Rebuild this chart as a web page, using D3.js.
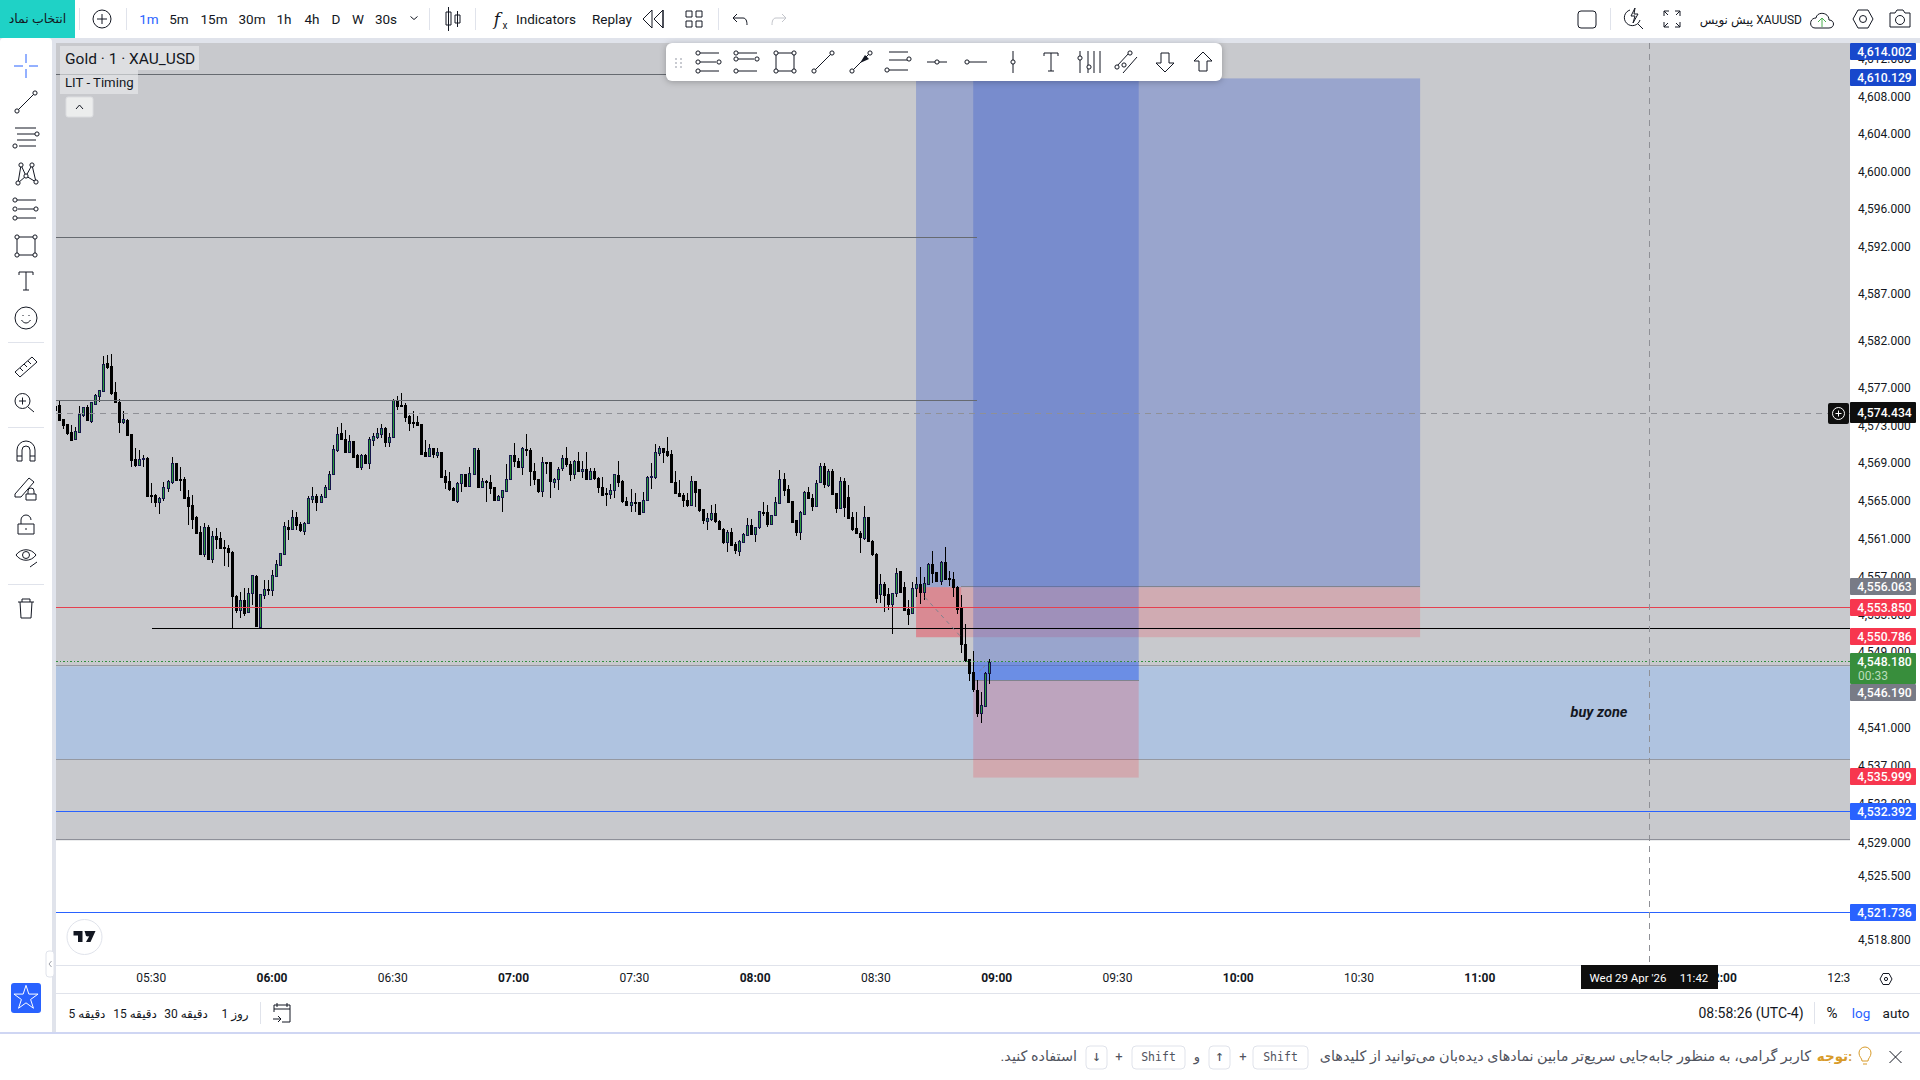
<!DOCTYPE html>
<html>
<head>
<meta charset="utf-8">
<script src="https://cdnjs.cloudflare.com/ajax/libs/d3/7.8.5/d3.min.js"></script>
<style>
html,body{margin:0;padding:0;background:#fff;overflow:hidden}
svg{display:block}
text{font-family:Roboto,'DejaVu Sans',sans-serif;fill:#131722}
</style>
</head>
<body>
<svg id="chart" width="1920" height="1080"></svg>
<script>
// XAU_USD 1 minute candles, first one is 05:06
const firstMinute = 306;
const opens = [4575.26,
4575.33,4573.85,4573.32,4572.48,4571.66,4572.51,4574.27,4575.16,4573.64,4575.47,
4576.32,4576.92,4579.78,4579.46,4576.71,4575.72,4573.53,4573.75,4572.26,4569.62,
4569.02,4569.58,4569.72,4565.81,4565.81,4565.07,4565.49,4566.55,4567.18,4569.20,
4567.50,4567.50,4565.60,4564.75,4563.48,4561.89,4559.57,4562.42,4559.04,4561.47,
4561.26,4560.27,4560.20,4559.78,4555.12,4553.64,4554.70,4553.43,4555.44,4557.24,
4551.84,4555.23,4555.86,4555.76,4557.24,4558.40,4559.57,4562.42,4562.21,4563.48,
4562.74,4562.00,4562.88,4565.39,4565.70,4565.07,4565.60,4566.44,4568.03,4570.57,
4572.37,4571.73,4570.36,4571.52,4570.04,4568.77,4570.04,4569.20,4571.63,4571.95,
4572.26,4572.90,4571.42,4571.95,4575.86,4575.33,4575.33,4574.17,4573.53,4573.53,
4573.32,4570.36,4569.94,4570.78,4570.04,4570.36,4567.82,4567.29,4566.55,4565.17,
4567.08,4568.03,4566.76,4568.03,4570.61,4566.66,4567.29,4567.18,4566.66,4565.28,
4565.60,4566.23,4567.47,4570.00,4569.37,4568.81,4570.64,4570.53,4568.31,4567.47,
4566.16,4569.26,4569.26,4567.11,4567.47,4568.59,4569.69,4569.05,4567.96,4569.37,
4568.28,4568.52,4567.43,4568.31,4567.64,4566.69,4565.98,4565.91,4566.27,4567.89,
4567.25,4565.14,4564.75,4565.10,4565.07,4563.94,4565.28,4567.64,4567.64,4570.22,
4570.75,4570.43,4570.11,4567.15,4565.98,4565.77,4565.24,4564.75,4567.25,4566.41,
4564.29,4562.99,4563.27,4563.87,4563.02,4562.17,4560.83,4561.89,4560.59,4559.92,
4560.87,4561.54,4562.60,4561.68,4562.39,4563.97,4563.97,4562.74,4563.66,4564.89,
4567.47,4566.41,4565.14,4563.13,4561.82,4563.80,4566.09,4565.46,4564.64,4567.18,
4568.88,4566.80,4568.31,4565.98,4564.43,4567.25,4565.56,4563.44,4562.28,4561.75,
4561.26,4563.44,4560.94,4559.57,4555.26,4556.36,4555.33,4554.27,4555.40,4557.73,
4556.07,4553.71,4553.25,4555.90,4556.36,4555.47,4556.36,4558.51,4557.66,4556.67,
4558.68,4556.99,4556.89,4556.07,4553.82,4550.11,4548.53,4547.15,4545.25,4542.85,
4543.55,4547.04];
const highs = [4575.33,
4575.86,4573.85,4573.32,4573.22,4572.97,4575.23,4575.16,4575.33,4575.72,4576.57,
4576.99,4580.52,4580.62,4580.73,4577.77,4576.04,4574.70,4573.85,4572.26,4570.78,
4570.57,4570.04,4569.87,4567.08,4565.92,4565.63,4567.18,4567.40,4569.83,4569.20,
4568.81,4567.71,4566.34,4565.81,4563.59,4562.53,4562.85,4562.63,4562.00,4562.32,
4561.89,4561.05,4560.52,4559.88,4555.23,4555.55,4555.97,4555.97,4557.34,4557.34,
4555.34,4556.82,4556.82,4557.87,4558.93,4559.67,4562.95,4563.16,4564.22,4564.01,
4562.95,4562.95,4565.70,4566.66,4565.92,4565.92,4566.83,4568.35,4571.10,4573.00,
4573.43,4572.69,4572.16,4571.52,4570.15,4570.15,4570.15,4571.95,4572.37,4572.90,
4573.32,4573.00,4572.37,4575.97,4576.28,4576.60,4575.54,4574.27,4574.70,4574.17,
4573.32,4571.63,4571.21,4570.78,4570.78,4570.36,4568.45,4568.24,4566.66,4567.18,
4568.03,4568.03,4568.77,4570.78,4570.78,4567.61,4567.40,4567.92,4566.66,4565.81,
4566.34,4569.09,4570.00,4571.31,4569.69,4570.89,4572.26,4570.75,4569.16,4567.47,
4569.79,4569.26,4569.26,4567.57,4568.74,4570.00,4570.89,4569.37,4569.51,4570.32,
4569.37,4570.32,4568.63,4568.63,4567.68,4567.68,4566.51,4566.94,4568.00,4569.37,
4567.39,4565.63,4566.41,4566.05,4565.10,4566.16,4567.82,4569.16,4571.17,4570.96,
4570.75,4571.91,4570.53,4568.31,4567.36,4565.98,4565.98,4567.82,4567.25,4566.41,
4564.29,4563.87,4564.79,4564.82,4563.16,4562.28,4562.10,4562.28,4560.80,4561.05,
4561.79,4563.37,4563.23,4562.46,4564.08,4565.07,4564.75,4563.69,4565.56,4568.45,
4568.10,4566.83,4565.14,4563.13,4564.11,4566.20,4566.62,4565.91,4567.39,4569.16,
4569.16,4568.52,4568.52,4565.98,4567.75,4567.57,4566.83,4564.04,4564.01,4562.00,
4564.64,4563.44,4561.05,4559.64,4557.45,4556.60,4555.93,4555.40,4558.05,4557.73,
4556.60,4554.70,4556.60,4557.13,4558.19,4557.17,4558.65,4559.88,4557.66,4558.82,
4560.31,4557.73,4557.66,4556.18,4555.23,4552.16,4548.53,4549.37,4546.30,4544.96,
4547.08,4548.53];
const lows = [4574.70,
4573.70,4572.79,4572.16,4571.63,4571.66,4572.51,4574.06,4573.75,4573.43,4575.47,
4575.69,4576.74,4579.14,4576.39,4575.69,4572.40,4573.32,4572.16,4568.77,4568.77,
4568.88,4568.77,4565.74,4564.96,4564.58,4563.80,4565.17,4566.13,4566.97,4567.40,
4566.23,4565.49,4562.63,4562.21,4561.79,4559.46,4559.21,4558.93,4558.65,4560.13,
4560.20,4558.30,4558.19,4551.70,4553.32,4552.79,4553.01,4553.43,4554.17,4551.95,
4551.84,4554.81,4555.23,4555.12,4557.13,4558.40,4559.57,4561.05,4562.11,4562.11,
4561.89,4561.58,4562.88,4564.96,4564.12,4564.96,4565.60,4566.44,4568.03,4570.36,
4571.73,4570.36,4570.36,4569.83,4568.67,4568.45,4569.09,4568.56,4570.99,4571.73,
4571.84,4570.89,4570.89,4571.95,4574.80,4575.23,4573.53,4572.58,4572.90,4573.22,
4570.04,4569.94,4569.94,4569.72,4569.72,4567.71,4566.44,4566.23,4565.17,4564.96,
4566.13,4566.76,4566.76,4568.03,4566.66,4566.55,4565.07,4565.92,4565.17,4565.17,
4564.01,4566.23,4567.36,4568.81,4568.63,4567.96,4569.93,4566.80,4566.87,4565.98,
4565.63,4568.03,4565.53,4566.58,4566.34,4568.31,4568.81,4567.32,4567.47,4568.28,
4567.57,4567.43,4567.43,4567.43,4565.98,4565.81,4564.64,4565.35,4565.46,4566.69,
4564.93,4564.64,4564.04,4564.04,4563.80,4563.94,4565.14,4566.44,4567.50,4569.93,
4569.16,4569.86,4567.11,4565.95,4565.70,4564.57,4564.54,4564.64,4564.54,4564.04,
4562.74,4562.10,4563.09,4562.81,4562.10,4560.59,4559.78,4560.45,4559.57,4559.35,
4560.80,4561.47,4561.65,4560.83,4562.21,4563.62,4562.46,4562.74,4563.62,4564.86,
4565.74,4564.93,4562.95,4561.47,4561.05,4563.80,4565.42,4564.11,4564.64,4567.18,
4566.58,4566.69,4565.91,4563.87,4564.43,4563.52,4563.37,4562.03,4561.68,4559.71,
4561.05,4560.94,4559.35,4554.35,4554.42,4553.43,4553.64,4551.10,4554.98,4555.40,
4553.64,4552.05,4553.25,4555.05,4554.27,4554.70,4556.29,4556.46,4556.60,4556.29,
4556.81,4556.18,4555.05,4553.22,4549.16,4548.14,4546.13,4544.96,4542.42,4541.72,
4543.55,4545.88];
const closes = [4574.80,
4573.75,4573.22,4572.37,4571.63,4572.55,4574.38,4575.09,4573.75,4575.65,4576.39,
4576.99,4579.74,4579.35,4576.64,4575.69,4573.57,4573.85,4572.16,4569.51,4568.98,
4569.62,4569.72,4565.74,4565.74,4565.07,4565.49,4566.66,4567.29,4569.20,4567.40,
4567.43,4565.49,4564.65,4563.27,4561.79,4559.57,4562.42,4559.04,4561.47,4561.15,
4560.20,4560.20,4559.78,4555.12,4553.64,4554.70,4553.32,4555.44,4557.34,4551.95,
4555.34,4555.86,4555.79,4557.34,4558.51,4559.67,4562.53,4562.21,4563.48,4562.63,
4562.11,4562.85,4565.49,4565.70,4565.07,4565.70,4566.66,4568.03,4570.68,4572.26,
4571.73,4570.36,4571.52,4569.83,4568.77,4570.04,4569.20,4571.73,4572.05,4572.37,
4572.90,4571.42,4571.95,4575.86,4575.23,4575.23,4574.06,4573.43,4573.43,4573.22,
4570.15,4569.94,4570.78,4570.15,4570.36,4567.71,4567.18,4566.44,4565.28,4567.08,
4568.03,4566.76,4568.14,4570.78,4566.66,4567.29,4567.18,4566.55,4565.28,4565.70,
4566.34,4567.50,4570.00,4569.37,4568.74,4570.78,4570.50,4568.28,4567.47,4566.16,
4569.26,4569.12,4567.22,4567.47,4568.52,4569.69,4569.05,4567.96,4569.37,4568.28,
4568.52,4567.43,4568.31,4567.54,4566.69,4565.88,4565.88,4566.30,4568.00,4567.11,
4565.10,4564.71,4565.03,4565.00,4563.80,4565.24,4567.68,4567.78,4570.32,4570.75,
4570.32,4570.04,4567.11,4565.95,4565.70,4565.21,4564.71,4567.25,4566.13,4564.22,
4563.09,4563.34,4563.87,4562.99,4562.14,4560.76,4561.89,4560.55,4559.92,4560.94,
4561.68,4562.60,4561.68,4562.39,4564.08,4563.90,4562.74,4563.66,4565.03,4567.47,
4566.34,4565.07,4562.95,4561.82,4563.97,4566.13,4565.42,4564.64,4567.04,4568.88,
4566.94,4568.31,4565.91,4564.43,4567.25,4564.50,4563.37,4562.21,4561.75,4561.29,
4563.44,4560.94,4559.57,4554.91,4556.36,4555.22,4554.27,4555.40,4557.52,4555.47,
4553.64,4553.22,4555.93,4556.36,4555.47,4556.46,4558.51,4557.55,4556.67,4558.68,
4556.92,4556.92,4556.07,4553.78,4550.04,4548.46,4547.08,4545.32,4542.85,4543.66,
4547.04,4548.18];

// Axis ticks
const priceTicks = [4612,4608,4604,4600,4596,4592,4587,4582,4577,4573,4569,4565,4561,4557,4553,4549,4541,4537,4533,4529,4525.5,4522,4518.8];
const timeTicks = [330,360,390,420,450,480,510,540,570,600,630,660,690,720,750];

// Price labels on the right side
const priceTags = [
    {p: 4614.002, c: '#1848cc'},
    {p: 4610.129, c: '#1848cc'},
    {p: 4574.434, c: '#0e0e0e', h: 21},
    {p: 4556.063, c: '#787b86'},
    {p: 4553.850, c: '#f7374f'},
    {p: 4550.786, c: '#f7374f'},
    {p: 4548.180, c: '#388e3c', h: 31, sub: '00:33'},
    {p: 4546.190, c: '#787b86'},
    {p: 4535.999, c: '#f7374f'},
    {p: 4532.392, c: '#2962ff'},
    {p: 4521.736, c: '#2962ff'}
];

// Drawings, in price and minutes from midnight
const paneTop = 4614.002, grayBottom = 4529.4;
const zoneTop = 4547.7, zoneBottom = 4537.85;
const crossPrice = 4574.434, crossMinute = 702;
const grayLines = [4610.5, 4593.15, 4575.74];
const blueLines = [4532.392, 4521.736];
const redLine = 4553.85, blackLine = 4551.69, lastPrice = 4548.18;

const PANE = {left: 56, right: 1850, top: 43, bottom: 965};

const svg = d3.select('#chart');
const x = d3.scaleLinear().domain([360, 660]).range([272.7, 1480.5]);
const y = d3.scaleLog().domain([4610.129, 4521.736]).range([78.4, 913.4]);

svg.append('rect').attr('width', 1920).attr('height', 1080).attr('fill', '#fff');
svg.append('defs').append('clipPath').attr('id', 'pane').append('rect')
    .attr('x', PANE.left).attr('y', PANE.top)
    .attr('width', PANE.right - PANE.left).attr('height', PANE.bottom - PANE.top);

drawFrame();
drawPane();
drawAxes();
drawTags();
drawTopBar();
drawSideBar();
drawFloatingBar();
drawBottomBar();

function label(g, str, px, py, size, opts) {
    opts = opts || {};
    return g.append('text').attr('x', px).attr('y', py)
        .attr('font-size', size)
        .attr('text-anchor', opts.anchor || 'middle')
        .attr('font-weight', opts.weight || 400)
        .style('fill', opts.fill || '#131722')
        .style('font-style', opts.italic ? 'italic' : 'normal')
        .style('font-family', opts.family || null)
        .text(str);
}

function box(g, x0, y0, x1, y1, fill, opts) {
    opts = opts || {};
    return g.append('rect').attr('x', x0).attr('y', y0)
        .attr('width', x1 - x0).attr('height', y1 - y0)
        .attr('fill', fill)
        .attr('rx', opts.rx || 0)
        .attr('stroke', opts.stroke || 'none');
}

function hline(g, price, x0, x1, color, dash, width) {
    const py = Math.floor(y(price) - 0.5) + 0.5;
    g.append('line').attr('x1', x0).attr('x2', x1).attr('y1', py).attr('y2', py)
        .attr('stroke', color).attr('stroke-width', width || 1)
        .attr('stroke-dasharray', dash || null)
        .attr('shape-rendering', 'crispEdges');
}

// Draws a little tool icon: a stroked path plus round handles
function icon(g, px, py, d, handles, color) {
    const t = g.append('g').attr('transform', `translate(${px},${py})`);
    t.append('path').attr('d', d).attr('fill', 'none')
        .attr('stroke', color || '#131722').attr('stroke-width', 1);
    (handles || []).forEach(h => {
        t.append('circle').attr('cx', h[0]).attr('cy', h[1]).attr('r', 2.1)
            .attr('fill', '#fff').attr('stroke', color || '#131722').attr('stroke-width', 1);
    });
    return t;
}

function drawFrame() {
    const g = svg.append('g');
    // light lavender gaps between the panels
    box(g, 0, 38, 1920, PANE.top, '#e0e3eb');
    box(g, 52, PANE.top, PANE.left, 1032, '#e0e3eb');
    box(g, PANE.left, 965, 1920, 966, '#e0e3eb');
    box(g, PANE.left, 993, 1920, 994, '#e0e3eb');
    box(g, 0, 1032, 1920, 1034, '#cfd6f3');
}

function drawPane() {
    const g = svg.append('g').attr('clip-path', 'url(#pane)');
    const L = PANE.left, R = PANE.right;
    const longFill = 'rgba(48,84,205,0.3)';

    box(g, L, y(paneTop), R, y(grayBottom), '#c8c9cd');
    hline(g, grayBottom, L, R, '#8e9099');

    // buy zone
    box(g, L, y(zoneTop), R, y(zoneBottom), '#afc3e0');
    hline(g, zoneTop, L, R, '#9598a1');
    hline(g, zoneBottom, L, R, '#9598a1');

    // first position tool
    box(g, x(519.8), y(4610.129), x(645), y(4556.063), longFill);
    box(g, x(519.8), y(4556.063), x(645), y(4550.786), 'rgba(242,54,69,0.2)');
    box(g, x(519.8), y(4556.063), x(531), y(4550.786), 'rgba(242,54,69,0.28)');
    hline(g, 4556.063, x(531), x(645), '#80838e');

    // second position tool, the band is the open profit down to the entry
    box(g, x(534), y(4610.129), x(575.1), y(4546.19), longFill);
    box(g, x(534), y(lastPrice), x(575.1), y(4546.19), 'rgba(41,98,255,0.3)');
    box(g, x(534), y(4546.19), x(575.1), y(4535.999), 'rgba(242,54,69,0.22)');
    hline(g, 4546.19, x(534), x(575.1), '#80838e');

    label(g, 'buy zone', 1599, 717, 14.5, {weight: 700, italic: true});

    // candles
    const candles = opens.map((o, i) => ({
        m: firstMinute + i, o: o, h: highs[i], l: lows[i], c: closes[i]
    }));
    g.selectAll('.wick').data(candles).enter().append('line')
        .attr('class', 'wick')
        .attr('x1', d => Math.floor(x(d.m)) + 0.5)
        .attr('x2', d => Math.floor(x(d.m)) + 0.5)
        .attr('y1', d => y(d.h)).attr('y2', d => y(d.l))
        .attr('stroke', '#000').attr('stroke-width', 1)
        .attr('shape-rendering', 'crispEdges');
    g.selectAll('.body').data(candles).enter().append('rect')
        .attr('class', 'body')
        .attr('x', d => Math.floor(x(d.m)) - 0.5)
        .attr('width', 2)
        .attr('y', d => Math.round(y(Math.max(d.o, d.c))) + 0.5)
        .attr('height', d => Math.max(1, Math.round(Math.abs(y(d.o) - y(d.c)))))
        .attr('fill', d => d.c >= d.o ? '#2b9a3b' : '#000')
        .attr('stroke', d => d.c >= d.o ? '#15154a' : '#000')
        .attr('stroke-width', 1)
        .attr('shape-rendering', 'crispEdges');

    // levels
    grayLines.forEach(p => hline(g, p, L, x(535), '#666a70'));
    hline(g, redLine, L, R, '#e5404f');
    hline(g, blackLine, x(330), R, '#000');
    hline(g, lastPrice, L, R, '#2f8f3c', '1.5 2');
    blueLines.forEach(p => hline(g, p, L, R, '#2962ff'));

    // dashed diagonals of the position tools
    const diagonal = d3.line().x(d => x(d[0])).y(d => y(d[1]));
    g.append('path').attr('d', diagonal([[522, 4555.0], [531, 4550.8]]))
        .attr('fill', 'none').attr('stroke', '#80838e').attr('stroke-dasharray', '4 4');
    g.append('path').attr('d', diagonal([[535.5, 4547.2], [537, 4547.8]]))
        .attr('fill', 'none').attr('stroke', '#80838e').attr('stroke-dasharray', '3 2');

    // crosshair
    hline(g, crossPrice, L, R, '#8f9096', '6 5');
    g.append('line').attr('x1', Math.floor(x(crossMinute)) + 0.5).attr('x2', Math.floor(x(crossMinute)) + 0.5)
        .attr('y1', PANE.top).attr('y2', PANE.bottom)
        .attr('stroke', '#8f9096').attr('stroke-dasharray', '6 5')
        .attr('shape-rendering', 'crispEdges');

    // legend
    box(g, 60, 46, 199, 70, 'rgba(232,233,235,0.65)');
    label(g, 'Gold · 1 · XAU_USD', 65, 64, 15.5, {anchor: 'start'});
    box(g, 60, 70, 138, 94, 'rgba(232,233,235,0.65)');
    label(g, 'LIT - Timing', 65, 87, 13.2, {anchor: 'start'});
    box(g, 66, 97, 93, 117, '#eceded', {rx: 2, stroke: '#dcdde0'});
    icon(g, 79.5, 107, 'M-3.5 2L0 -2L3.5 2');

    // tv logo
    g.append('circle').attr('cx', 84.5).attr('cy', 937).attr('r', 17.5)
        .attr('fill', '#fff').attr('stroke', '#e0e3eb');
    g.append('path').attr('transform', 'translate(84.5,937)')
        .attr('d', 'M-11 -6H-2V5H-6.5V-1.5H-11ZM0 -6L5.5 -6L11 -6L6 5H1.5L6 -3A2 2 0 0 1 1 -3Z')
        .attr('fill', '#131722');
}

function drawAxes() {
    const priceAxis = d3.axisRight(y).tickValues(priceTicks).tickSize(0).tickPadding(8)
        .tickFormat(d3.format(',.3f'));
    const timeFormat = m => String(Math.floor(m / 60)).padStart(2, '0') + ':' + String(m % 60).padStart(2, '0');
    const timeAxis = d3.axisBottom(x).tickValues(timeTicks).tickSize(0).tickPadding(0)
        .tickFormat(timeFormat);

    const tg = svg.append('g').attr('transform', 'translate(-1.2,971.5)').call(timeAxis);
    tg.select('.domain').remove();
    tg.selectAll('text').attr('font-size', 12).attr('font-family', 'Roboto')
        .attr('dy', '0.9em')
        .attr('font-weight', d => d % 60 === 0 ? 700 : 400)
        .style('fill', '#131722');

    // right price scale sits on top of the clipped time labels
    box(svg, PANE.right, 0 + PANE.top, 1920, 1032, '#fff');
    box(svg, PANE.right, 965, 1920, 966, '#e0e3eb');
    box(svg, PANE.right, 993, 1920, 994, '#e0e3eb');

    const pg = svg.append('g').attr('transform', `translate(${PANE.right},0)`).call(priceAxis);
    pg.select('.domain').remove();
    pg.selectAll('text').attr('font-size', 12).attr('font-family', 'Roboto')
        .attr('dy', '0.155em').style('fill', '#131722');

    // crosshair date tag
    box(svg, 1581, 965, 1718, 989, '#0e0e0e');
    label(svg, "Wed 29 Apr '26", 1628, 982, 11.5, {fill: '#fff'});
    label(svg, '11:42', 1694, 982, 11.5, {fill: '#fff'});

    // corner gear
    icon(svg, 1886, 979, 'M-6 0L-3 -5.5H3L6 0L3 5.5H-3Z M1.6 0A1.6 1.6 0 1 1 -1.6 0A1.6 1.6 0 1 1 1.6 0');
}

function drawTags() {
    const g = svg.append('g');
    let bottom = PANE.top;
    priceTags.forEach(t => {
        const h = t.h || 17;
        const top = Math.max(Math.round(y(t.p) - (t.sub ? 8.5 : h / 2) - 0.7), bottom);
        bottom = top + h;
        box(g, 1850, top, 1916, bottom, t.c, {rx: 1});
        label(g, d3.format(',.3f')(t.p), 1884.5, top + (t.sub ? 13 : h / 2 + 4.5), 12.2, {fill: '#fff', weight: 500, family: 'Roboto'});
        if (t.sub) label(g, t.sub, 1858, top + 27, 12, {fill: '#b9dcbb', anchor: 'start', family: 'Roboto'});
    });

    // plus button next to the crosshair tag
    box(g, 1828, 403, 1849, 424, '#0e0e0e', {rx: 2});
    g.append('circle').attr('cx', 1838.5).attr('cy', 413.5).attr('r', 6)
        .attr('fill', 'none').attr('stroke', '#fff');
    icon(g, 1838.5, 413.5, 'M-3 0H3M0 -3V3', null, '#fff');
}

function drawTopBar() {
    const g = svg.append('g');
    box(g, 0, 0, 75, 38, '#1fd2c6');
    label(g, 'انتخاب نماد', 37.5, 23, 12.5, {fill: '#131722'});

    [79, 126, 429, 475, 718, 1610].forEach(sx => box(g, sx, 8, sx + 1, 30, '#e0e3eb'));

    g.append('circle').attr('cx', 102).attr('cy', 19).attr('r', 9).attr('fill', 'none').attr('stroke', '#131722');
    icon(g, 102, 19, 'M-5 0H5M0 -5V5');

    const intervals = [['1m', 149], ['5m', 179], ['15m', 214], ['30m', 252], ['1h', 284], ['4h', 312], ['D', 336], ['W', 358], ['30s', 386]];
    intervals.forEach((d, i) => label(g, d[0], d[1], 24, 13.5, {fill: i === 0 ? '#2962ff' : '#131722'}));
    icon(g, 414, 18, 'M-3.5 -1.5L0 1.5L3.5 -1.5');

    icon(g, 453, 19, 'M-4.5 -12V12M4.5 -8V8M-7 -7H-2V6H-7ZM2 -4H7V4H2Z');
    label(g, 'f', 497, 25, 17, {italic: true, family: 'DejaVu Serif'});
    label(g, 'x', 505, 29, 10);
    label(g, 'Indicators', 546, 24, 13.5);
    label(g, 'Replay', 612, 24, 13.5);
    icon(g, 653, 19, 'M-1 -9L-10 0L-1 9ZM10 -9L1 0L10 9Z M10 -9V9');
    icon(g, 694, 19, 'M-8 -8H-2V-2H-8ZM2 -8H8V-2H2ZM-8 2H-2V8H-8ZM2 2H8V8H2Z');
    icon(g, 740, 19, 'M-7 -1H3C6 -1 7 2 7 6M-7 -1L-3 -5M-7 -1L-3 3');
    icon(g, 779, 19, 'M7 -1H-3C-6 -1 -7 2 -7 6M7 -1L3 -5M7 -1L3 3', null, '#c3c5cb');

    // right side
    g.append('rect').attr('x', 1578).attr('y', 11).attr('width', 18).attr('height', 17).attr('rx', 3)
        .attr('fill', 'none').attr('stroke', '#131722');
    icon(g, 1633, 18, 'M-3 -8A8 8 0 1 0 7 2M5 6L10 11M2 -10L-2 -2H2L0 5L5 -4H1Z');
    icon(g, 1672, 19, 'M-8 -3V-8H-3M3 -8H8V-3M8 3V8H3M-3 8H-8V3M-8 -8L-4 -4M8 -8L4 -4M8 8L4 4M-8 8L-4 4');
    label(g, 'پیش نویس XAUUSD', 1802, 24, 12, {anchor: 'end'});
    icon(g, 1822, 20, 'M-7 8H7C13 8 13 0 7 0C7 -8 -5 -9 -6 -2C-13 -2 -13 8 -7 8Z');
    icon(g, 1822, 21, 'M-4 1L0 -3L4 1M0 -3V6', null, '#4caf50');
    icon(g, 1863, 19, 'M-10 0L-5 -9H5L10 0L5 9H-5Z M3.5 0A3.5 3.5 0 1 1 -3.5 0A3.5 3.5 0 1 1 3.5 0');
    icon(g, 1900, 19, 'M-10 -6H-5L-3 -9H3L5 -6H10V8H-10Z M4.5 1A4.5 4.5 0 1 1 -4.5 1A4.5 4.5 0 1 1 4.5 1');
}

function drawSideBar() {
    const g = svg.append('g');
    box(g, 0, 38, 52, 1032, '#fff', {rx: 4});
    const X = 26;
    icon(g, X, 66, 'M-12 0H-3M3 0H12M0 -12V-3M0 3V12', null, '#2962ff');
    icon(g, X, 102, 'M-9 9L9 -9', [[-9, 9], [9, -9]]);
    icon(g, X, 137, 'M-11 -9H10M-9 -3H9M-9 3H10M-7 9H10', [[11, -3], [-11, 9]]);
    icon(g, X, 174, 'M-8 9L-5 -9L0 2L6 -9L10 8M-8 9L0 2L10 8', [[-8, 9], [-5, -9], [0, 2], [6, -9], [10, 8]]);
    icon(g, X, 210, 'M-10 -10H10M-8 -1H8M-10 8H10', [[-11, -10], [-11, -1], [10, -1], [-11, 8]]);
    icon(g, X, 246, 'M-9 -9H9V9H-9Z', [[-9, -9], [9, -9], [-9, 9], [9, 9]]);
    icon(g, X, 281, 'M-7 -9H7M0 -9V9M-3 9H3M-7 -9V-6M7 -9V-6');
    g.append('circle').attr('cx', X).attr('cy', 318).attr('r', 11).attr('fill', 'none').attr('stroke', '#131722');
    icon(g, X, 318, 'M-4.5 2C-2 6 2 6 4.5 2M-3 -3V-2M3 -3V-2');
    box(g, 8, 342, 44, 343, '#e0e3eb');
    icon(g, X, 367, 'M-11 5L6 -10L11 -5L-6 10ZM-6 1L-3 4M-2 -3L1 0M2 -6L5 -3');
    icon(g, X, 401, 'M4 0A7.5 7.5 0 1 1 -11 0A7.5 7.5 0 1 1 4 0M-3.5 -3.5V3.5M-7 0H0M2 6L8 11');
    box(g, 8, 427, 44, 428, '#e0e3eb');
    icon(g, X, 451, 'M-9 10V-1A9 9 0 0 1 9 -1V10H4V-1A4 4 0 0 0 -4 -1V10ZM-9 5H-4M4 5H9');
    icon(g, X, 488, 'M-11 6L3 -10L8 -6L-5 9H-11ZM0 6H10V12H0ZM2 6V3A3 3 0 0 1 8 3V6');
    icon(g, X, 525, 'M-8 -1H8V9H-8ZM-5 -1V-5A5 5 0 0 1 5 -5M0 3V5');
    icon(g, X, 557, 'M-10 -2C-5 -9 5 -9 10 -2C5 5 -5 5 -10 -2ZM3.5 -2A3.5 3.5 0 1 1 -3.5 -2A3.5 3.5 0 1 1 3.5 -2M4 10L11 5');
    box(g, 8, 584, 44, 585, '#e0e3eb');
    icon(g, X, 609, 'M-8 -7H8M-6 -7L-5 9H5L6 -7M-4 -7V-10H4V-7');

    // watchlist button and collapse handle
    box(g, 11, 983, 41, 1013, '#2962ff', {rx: 3});
    g.append('path').attr('transform', 'translate(26,998)')
        .attr('d', d3.symbol(d3.symbolStar, 180))
        .attr('fill', 'none').attr('stroke', '#fff').attr('stroke-width', 1);
    box(g, 46, 951, 54, 977, '#fff', {rx: 3, stroke: '#e0e3eb'});
    icon(g, 50, 964, 'M1.5 -3L-1 0L1.5 3', null, '#9ea1aa');
}

function drawFloatingBar() {
    const g = svg.append('g');
    g.append('rect').attr('x', 666).attr('y', 43).attr('width', 556).attr('height', 38).attr('rx', 6)
        .attr('fill', '#fff').style('filter', 'drop-shadow(0 1px 3px rgba(0,0,0,.25))');
    [[-2, -4], [3, -4], [-2, 0], [3, 0], [-2, 4], [3, 4]].forEach(d => {
        g.append('rect').attr('x', 677 + d[0]).attr('y', 62 + d[1]).attr('width', 2).attr('height', 2).attr('fill', '#c9cbd1');
    });
    icon(g, 708, 62, 'M-8 -9H11M-8 0H8M-8 9H11', [[-10, -9], [-10, 0], [11, 0], [-10, 9]]);
    icon(g, 746, 62, 'M-8 -9H11M-8 -3H8M-8 9H11', [[-10, -9], [-10, -3], [11, -3], [-10, 9]]);
    icon(g, 785, 62, 'M-9 -9H9V9H-9Z', [[-9, -9], [9, -9], [-9, 9], [9, 9]]);
    icon(g, 823, 62, 'M-9 9L9 -9', [[-9, 9], [9, -9]]);
    icon(g, 861, 62, 'M-9 9L9 -9', [[-9, 9], [9, -9]]);
    g.append('path').attr('transform', 'translate(864,60)').attr('d', 'M-4 3L1 -5L5 -1Z').attr('fill', '#131722');
    icon(g, 898, 62, 'M-9 -10H10M-9 -2H10M-9 8H10', [[11, -3], [-11, 8]]);
    icon(g, 937, 62, 'M-10 0H10', [[0, 0]]);
    icon(g, 976, 62, 'M-8 0H11', [[-9, 0]]);
    icon(g, 1013, 62, 'M0 -11V11', [[0, 0]]);
    icon(g, 1051, 62, 'M-7 -9H7M0 -9V9M-3 9H3M-7 -9V-6M7 -9V-6');
    icon(g, 1089, 62, 'M-9 -11V11M-1 -11V11M5 -11V11M11 -11V11', [[-9, -4], [0, 5]]);
    icon(g, 1127, 62, 'M-10 4L2 -9M-4 11L10 -5', [[-10, 5], [3, -9], [-3, 3]]);
    icon(g, 1165, 62, 'M-4 -9H4V1H9L0 10L-9 1H-4Z');
    icon(g, 1203, 62, 'M-4 9H4V-1H9L0 -10L-9 -1H-4Z');
}

function drawBottomBar() {
    const g = svg.append('g');
    // range buttons
    label(g, '5 دقیقه', 87, 1018, 12);
    label(g, '15 دقیقه', 135, 1018, 12);
    label(g, '30 دقیقه', 186, 1018, 12);
    label(g, '1 روز', 235, 1018, 12);
    box(g, 260, 1002, 261, 1024, '#e0e3eb');
    icon(g, 282, 1013, 'M-8 -1V-8H8V9H0M-8 -4H8M-5 -10V-6M5 -10V-6M-9 6H-1M-4 3L-1 6L-4 9');

    label(g, '08:58:26 (UTC-4)', 1751, 1018, 14);
    box(g, 1814, 1002, 1815, 1024, '#e0e3eb');
    label(g, '%', 1832, 1018, 15);
    label(g, 'log', 1861, 1018, 13.5, {fill: '#2962ff'});
    label(g, 'auto', 1896, 1018, 13.5);

    // notice
    const Y = 1061;
    icon(g, 1895.5, 1057, 'M-6 -6L6 6M6 -6L-6 6');
    icon(g, 1865, 1056, 'M-3 5C-3 2 -6 1 -6 -3A6 6 0 0 1 6 -3C6 1 3 2 3 5ZM-2 8H2', null, '#d89b2a');
    label(g, 'توجه:', 1852, Y, 13.5, {anchor: 'end', fill: '#d89b2a', weight: 700});
    label(g, 'کاربر گرامی، به منظور جابه‌جایی سریع‌تر مابین نمادهای دیده‌بان می‌توانید از کلیدهای', 1811, Y, 14.4, {fill: '#50535e'})
        .attr('direction', 'rtl').attr('text-anchor', 'start');
    const keys = [[1253, 1308, 'Shift'], [1209, 1230, '↑'], [1132, 1185, 'Shift'], [1086, 1107, '↓']];
    keys.forEach(k => {
        box(g, k[0], 1046, k[1], 1069, '#fff', {rx: 4, stroke: '#e0e3eb'});
        label(g, k[2], (k[0] + k[1]) / 2, 1061, k[2] === 'Shift' ? 11.5 : 15, {fill: '#50535e', family: 'DejaVu Sans Mono'});
    });
    label(g, '+', 1243, Y, 13, {fill: '#50535e'});
    label(g, 'و', 1197, Y, 13, {fill: '#50535e'});
    label(g, '+', 1119, Y, 13, {fill: '#50535e'});
    label(g, 'استفاده کنید.', 1077, Y, 14.4, {fill: '#50535e'})
        .attr('direction', 'rtl').attr('text-anchor', 'start');
}
</script>
</body>
</html>
